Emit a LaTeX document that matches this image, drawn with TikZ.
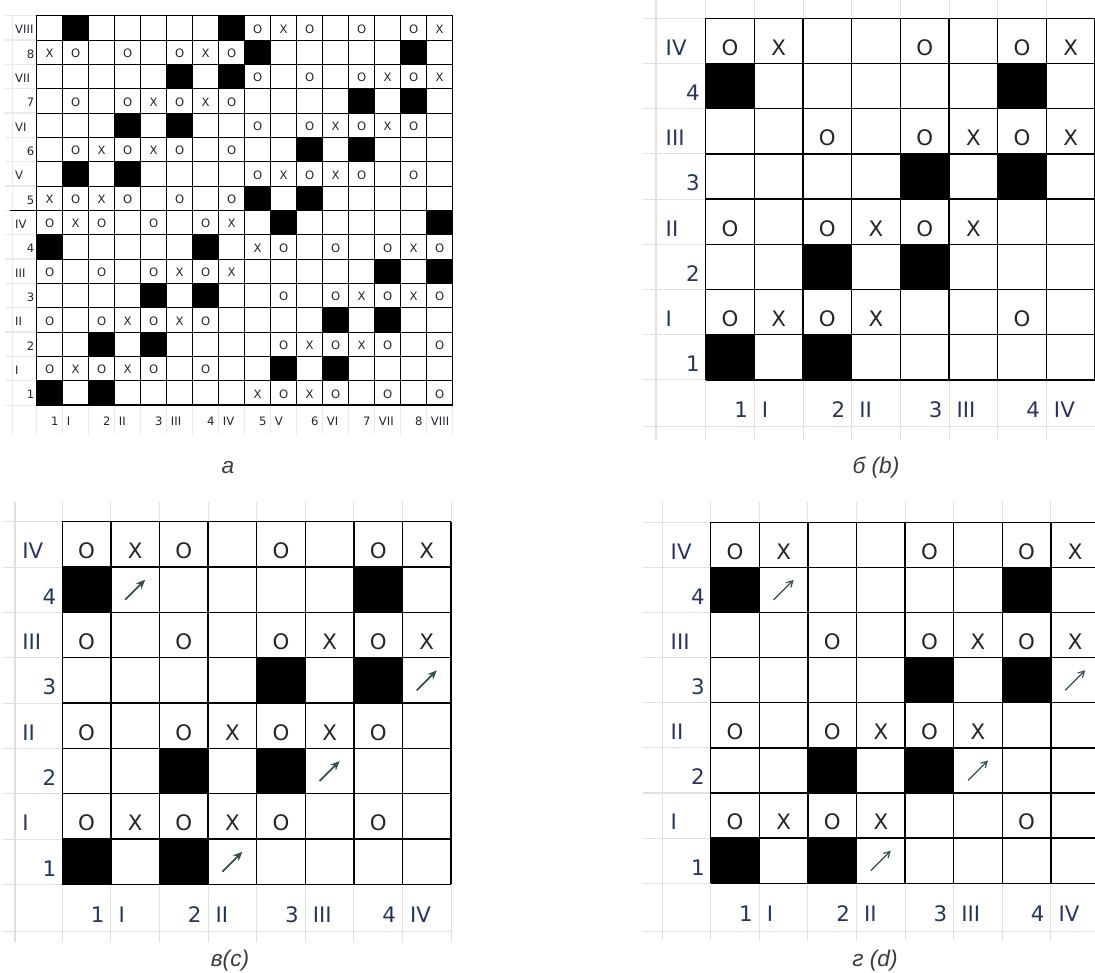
\documentclass[tikz,border=0pt]{standalone}
\usepackage{fontspec}
\usetikzlibrary{arrows.meta}
\newfontfamily\cellfont{DejaVu Sans}
\newfontfamily\capfont{Liberation Sans}

\definecolor{labblue}{RGB}{38,52,98}
\definecolor{markdark}{RGB}{40,34,44}
\definecolor{arrowteal}{RGB}{55,78,82}
\definecolor{sheetgray}{RGB}{224,224,224}
\definecolor{capgray}{RGB}{60,60,60}

\tikzset{
  sheet/.style={draw=sheetgray, line width=0.8pt},
  tabline/.style={draw=black, line width=1pt},
  celltext/.style={inner sep=0pt, text=markdark, font=\cellfont\fontsize{16}{16}\selectfont},
  cellmark/.style={celltext, anchor=base, yshift=6.2pt},
  romanlab/.style={celltext, anchor=base west, text=labblue, xshift=-30.2pt, yshift=6.2pt},
  numlab/.style={celltext, anchor=base east, text=labblue, xshift=-4.3pt, yshift=6.2pt},
  botnum/.style={celltext, anchor=base east, text=labblue, xshift=-4.7pt, yshift=-28.3pt},
  botroman/.style={celltext, anchor=base west, text=labblue, xshift=5.5pt, yshift=-28.3pt},
  smalltext/.style={inner sep=0pt, text=markdark, font=\cellfont\fontsize{8.7}{8.7}\selectfont},
  smallmark/.style={smalltext, anchor=base, yshift=5.2pt},
  smallroman/.style={smalltext, anchor=base west, xshift=-16.3pt, yshift=4.6pt},
  smallnum/.style={smalltext, anchor=base east, xshift=-1.6pt, yshift=4.6pt},
  smallbotnum/.style={smalltext, anchor=base east, xshift=-3pt, yshift=-15pt},
  smallbotroman/.style={smalltext, anchor=base west, xshift=3pt, yshift=-15pt},
  cellarrow/.style={draw=arrowteal, line width=1.4pt, -{Stealth[length=7pt,width=6pt]}},
  thinarrow/.style={draw=arrowteal, line width=0.9pt, -{Straight Barb[length=4.5pt,width=5pt]}},
  caption/.style={anchor=base, text=capgray, font=\capfont\itshape\fontsize{17}{17}\selectfont},
}

% cell data: column/row (row 1 = top)
\def\darkbd{1/2,7/2,5/4,7/4,3/6,5/6,1/8,3/8}
\def\marksbd{1/1/O,2/1/X,5/1/O,7/1/O,8/1/X,
  3/3/O,5/3/O,6/3/X,7/3/O,8/3/X,
  1/5/O,3/5/O,4/5/X,5/5/O,6/5/X,
  1/7/O,2/7/X,3/7/O,4/7/X,7/7/O}
\def\marksc{1/1/O,2/1/X,3/1/O,5/1/O,7/1/O,8/1/X,
  1/3/O,3/3/O,5/3/O,6/3/X,7/3/O,8/3/X,
  1/5/O,3/5/O,4/5/X,5/5/O,6/5/X,7/5/O,
  1/7/O,2/7/X,3/7/O,4/7/X,5/7/O,7/7/O}
\def\arrowscd{2/2,8/4,6/6,4/8}
\def\darka{2/1,8/1,9/2,15/2,6/3,8/3,13/4,15/4,4/5,6/5,11/6,13/6,2/7,4/7,9/8,11/8,
  10/9,16/9,1/10,7/10,14/11,16/11,5/12,7/12,12/13,14/13,3/14,5/14,10/15,12/15,1/16,3/16}
\def\marksa{9/1/O,10/1/X,11/1/O,13/1/O,15/1/O,16/1/X,
  1/2/X,2/2/O,4/2/O,6/2/O,7/2/X,8/2/O,
  9/3/O,11/3/O,13/3/O,14/3/X,15/3/O,16/3/X,
  2/4/O,4/4/O,5/4/X,6/4/O,7/4/X,8/4/O,
  9/5/O,11/5/O,12/5/X,13/5/O,14/5/X,15/5/O,
  2/6/O,3/6/X,4/6/O,5/6/X,6/6/O,8/6/O,
  9/7/O,10/7/X,11/7/O,12/7/X,13/7/O,15/7/O,
  1/8/X,2/8/O,3/8/X,4/8/O,6/8/O,8/8/O,
  1/9/O,2/9/X,3/9/O,5/9/O,7/9/O,8/9/X,
  9/10/X,10/10/O,12/10/O,14/10/O,15/10/X,16/10/O,
  1/11/O,3/11/O,5/11/O,6/11/X,7/11/O,8/11/X,
  10/12/O,12/12/O,13/12/X,14/12/O,15/12/X,16/12/O,
  1/13/O,3/13/O,4/13/X,5/13/O,6/13/X,7/13/O,
  10/14/O,11/14/X,12/14/O,13/14/X,14/14/O,16/14/O,
  1/15/O,2/15/X,3/15/O,4/15/X,5/15/O,7/15/O,
  9/16/X,10/16/O,11/16/X,12/16/O,14/16/O,16/16/O}

\begin{document}
\begin{tikzpicture}[x=0.75pt, y=-0.75pt]
  \useasboundingbox (0,0) rectangle (1095,973);

  % ---------- panel a: 16 x 16 ----------
  \begin{scope}[shift={(36.7,15.7)}, x=19.5pt, y=-18.25pt]
    % spreadsheet grid
    \foreach \i in {0,...,16}
      \draw[sheet, draw=sheetgray!70] ([xshift=-23.8pt]0,\i) -- (0,\i);
    \foreach \j in {0,...,16}
      \draw[sheet, draw=sheetgray!70] (\j,16) -- ([yshift=-22pt]\j,16);
    \draw[sheet, draw=sheetgray!70] ([xshift=-18.5pt]0,0) -- ([xshift=-18.5pt,yshift=-22pt]0,16);
    % dark cells
    \foreach \c/\r in \darka
      \fill (\c-1,\r-1) rectangle (\c,\r);
    % table lines
    \foreach \i in {0,...,16} {
      \draw[line width=0.7pt] (0,\i) -- (16,\i);
      \draw[line width=0.7pt] (\i,0) -- (\i,16);
    }
    \draw[line width=1.1pt] (0,0) rectangle (16,16);
    \draw[line width=1.1pt] (8,0) -- (8,16);
    \draw[line width=1.1pt] ([xshift=-20pt]0,8) -- (16,8);
    % O and X
    \foreach \c/\r/\m in \marksa
      \node[smallmark] (a-\c-\r) at (\c-.5,\r) {\m};
    % row labels
    \foreach \r/\m in {1/VIII,3/VII,5/VI,7/V,9/IV,11/III,13/II,15/I}
      \node[smallroman] (a-l\r) at (0,\r) {\m};
    \foreach \r/\m in {2/8,4/7,6/6,8/5,10/4,12/3,14/2,16/1}
      \node[smallnum] (a-l\r) at (0,\r) {\m};
    % column labels
    \foreach \c/\n/\m in {1/1/I,3/2/II,5/3/III,7/4/IV,9/5/V,11/6/VI,13/7/VII,15/8/VIII} {
      \node[smallbotnum] (a-n\c) at (\c,16) {\n};
      \node[smallbotroman] (a-b\c) at (\c,16) {\m};
    }
  \end{scope}
  \node[caption] (cap-a) at (228,473.5) {а};

  % ---------- panel b ----------
  \begin{scope}[shift={(705.7,18.3)}, x=36.5pt, y=-33.9pt]
    % spreadsheet grid
    \foreach \i in {0,...,8}
      \draw[sheet] ([xshift=-47pt]0,\i) -- (8,\i);
    \draw[sheet] ([xshift=-47pt,yshift=-35.2pt]0,8) -- ([yshift=-35.2pt]8,8);
    \foreach \j in {0,...,8}
      \draw[sheet] ([yshift=13.7pt]\j,0) -- ([yshift=-45pt]\j,8);
    \draw[sheet] ([xshift=-37.3pt,yshift=13.7pt]0,0) -- ([xshift=-37.3pt,yshift=-45pt]0,8);
    % dark cells
    \foreach \c/\r in \darkbd
      \fill (\c-1,\r-1) rectangle (\c,\r);
    % table lines
    \foreach \i in {0,...,8} {
      \draw[tabline] (0,\i) -- (8,\i);
      \draw[tabline] (\i,0) -- (\i,8);
    }
    % O and X
    \foreach \c/\r/\m in \marksbd
      \node[cellmark] (b-\c-\r) at (\c-.5,\r) {\m};
    % labels
    \foreach \r/\m in {1/IV,3/III,5/II,7/I}
      \node[romanlab] (b-l\r) at (0,\r) {\m};
    \foreach \r/\m in {2/4,4/3,6/2,8/1}
      \node[numlab] (b-l\r) at (0,\r) {\m};
    \foreach \c/\n/\m in {1/1/I,3/2/II,5/3/III,7/4/IV} {
      \node[botnum] (b-n\c) at (\c,8) {\n};
      \node[botroman] (b-b\c) at (\c,8) {\m};
    }
  \end{scope}
  \node[caption] (cap-b) at (876,473.5) {б (b)};

  % ---------- panel c ----------
  \begin{scope}[shift={(62.3,521.7)}, x=36.45pt, y=-34pt]
    % spreadsheet grid
    \foreach \i in {0,...,8}
      \draw[sheet] ([xshift=-44.5pt]0,\i) -- (8,\i);
    \draw[sheet] ([xshift=-44.5pt,yshift=-35.5pt]0,8) -- ([yshift=-35.5pt]8,8);
    \foreach \j in {0,...,8}
      \draw[sheet] ([yshift=15pt]\j,0) -- ([yshift=-43pt]\j,8);
    \draw[sheet] ([xshift=-35.5pt,yshift=15pt]0,0) -- ([xshift=-35.5pt,yshift=-43pt]0,8);
    % dark cells
    \foreach \c/\r in \darkbd
      \fill (\c-1,\r-1) rectangle (\c,\r);
    % table lines
    \foreach \i in {0,...,8} {
      \draw[tabline] (0,\i) -- (8,\i);
      \draw[tabline] (\i,0) -- (\i,8);
    }
    % O and X
    \foreach \c/\r/\m in \marksc
      \node[cellmark] (c-\c-\r) at (\c-.5,\r) {\m};
    % moves
    \foreach \c/\r in \arrowscd
      \draw[cellarrow] (\c-.5,\r-.5) ++(-7.5pt,-7.5pt) -- ++(15pt,15pt);
    % labels
    \foreach \r/\m in {1/IV,3/III,5/II,7/I}
      \node[romanlab] (c-l\r) at (0,\r) {\m};
    \foreach \r/\m in {2/4,4/3,6/2,8/1}
      \node[numlab] (c-l\r) at (0,\r) {\m};
    \foreach \c/\n/\m in {1/1/I,3/2/II,5/3/III,7/4/IV} {
      \node[botnum] (c-n\c) at (\c,8) {\n};
      \node[botroman] (c-b\c) at (\c,8) {\m};
    }
  \end{scope}
  \node[caption] (cap-c) at (230,966) {в(c)};

  % ---------- panel d ----------
  \begin{scope}[shift={(710.7,522.3)}, x=36.45pt, y=-33.84pt]
    % spreadsheet grid
    \foreach \i in {0,...,8}
      \draw[sheet] ([xshift=-50.8pt]0,\i) -- (8,\i);
    \draw[sheet] ([xshift=-50.8pt,yshift=-36pt]0,8) -- ([yshift=-36pt]8,8);
    \foreach \j in {0,...,8}
      \draw[sheet] ([yshift=15pt]\j,0) -- ([yshift=-43pt]\j,8);
    \draw[sheet] ([xshift=-36.5pt,yshift=15pt]0,0) -- ([xshift=-36.5pt,yshift=-43pt]0,8);
    % dark cells
    \foreach \c/\r in \darkbd
      \fill (\c-1,\r-1) rectangle (\c,\r);
    % table lines
    \foreach \i in {0,...,8} {
      \draw[tabline] (0,\i) -- (8,\i);
      \draw[tabline] (\i,0) -- (\i,8);
    }
    % O and X
    \foreach \c/\r/\m in \marksbd
      \node[cellmark] (d-\c-\r) at (\c-.5,\r) {\m};
    % moves
    \foreach \c/\r in \arrowscd
      \draw[thinarrow] (\c-.5,\r-.5) ++(-7.5pt,-7.5pt) -- ++(15pt,15pt);
    % labels
    \foreach \r/\m in {1/IV,3/III,5/II,7/I}
      \node[romanlab] (d-l\r) at (0,\r) {\m};
    \foreach \r/\m in {2/4,4/3,6/2,8/1}
      \node[numlab] (d-l\r) at (0,\r) {\m};
    \foreach \c/\n/\m in {1/1/I,3/2/II,5/3/III,7/4/IV} {
      \node[botnum] (d-n\c) at (\c,8) {\n};
      \node[botroman] (d-b\c) at (\c,8) {\m};
    }
  \end{scope}
  \node[caption] (cap-d) at (875,966) {г (d)};
\end{tikzpicture}
\end{document}
